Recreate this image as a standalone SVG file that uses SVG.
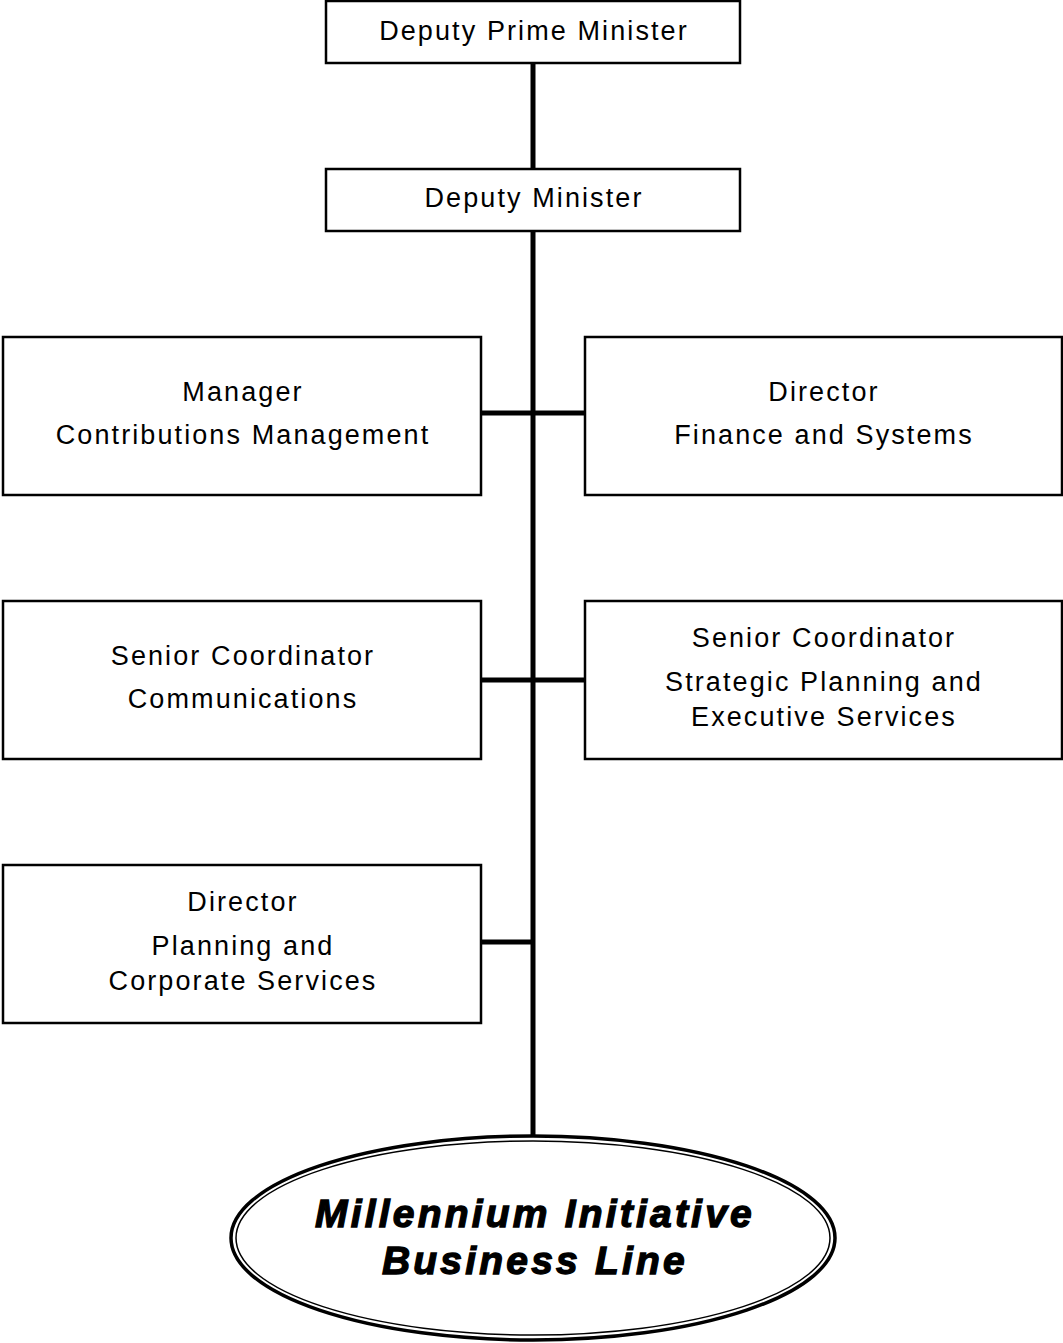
<svg xmlns="http://www.w3.org/2000/svg" width="1063" height="1343" viewBox="0 0 1063 1343">
<style>
.box{fill:#fff;stroke:#000;stroke-width:2.5}
.t{font-family:"Liberation Sans",Arial,sans-serif;font-size:27px;letter-spacing:2.1px;fill:#000;text-anchor:middle}
.e{font-family:"Liberation Sans",Arial,sans-serif;font-size:39px;font-weight:bold;font-style:italic;letter-spacing:3.2px;fill:#000;stroke:#000;stroke-width:1.3;text-anchor:middle}
.c{stroke:#000;stroke-width:5;fill:none}
</style>
<rect width="1063" height="1343" fill="#fff"/>
<g id="connectors">
<line class="c" x1="533" y1="63" x2="533" y2="169"/>
<line class="c" x1="533" y1="231" x2="533" y2="1137"/>
<line class="c" x1="481" y1="413" x2="585" y2="413"/>
<line class="c" x1="481" y1="680" x2="585" y2="680"/>
<line class="c" x1="481" y1="942" x2="533" y2="942"/>
</g>
<g id="dpm"><rect class="box" x="326" y="1" width="414" height="62"/><text class="t" x="534" y="40">Deputy Prime Minister</text></g>
<g id="dm"><rect class="box" x="326" y="169" width="414" height="62"/><text class="t" x="534" y="207">Deputy Minister</text></g>
<g id="mcm"><rect class="box" x="3" y="337" width="478" height="158"/><text class="t" x="243" y="401">Manager</text><text class="t" x="243" y="444">Contributions Management</text></g>
<g id="dfs"><rect class="box" x="585" y="337" width="477" height="158"/><text class="t" x="824" y="401">Director</text><text class="t" x="824" y="444">Finance and Systems</text></g>
<g id="scc"><rect class="box" x="3" y="601" width="478" height="158"/><text class="t" x="243" y="665">Senior Coordinator</text><text class="t" x="243" y="708">Communications</text></g>
<g id="scsp"><rect class="box" x="585" y="601" width="477" height="158"/><text class="t" x="824" y="647">Senior Coordinator</text><text class="t" x="824" y="691">Strategic Planning and</text><text class="t" x="824" y="726">Executive Services</text></g>
<g id="dpcs"><rect class="box" x="3" y="865" width="478" height="158"/><text class="t" x="243" y="911">Director</text><text class="t" x="243" y="955">Planning and</text><text class="t" x="243" y="990">Corporate Services</text></g>
<g id="mibl">
<ellipse cx="533" cy="1238" rx="302" ry="102" fill="#fff" stroke="#000" stroke-width="3.5"/>
<ellipse cx="533" cy="1238" rx="297" ry="97" fill="none" stroke="#000" stroke-width="1.5"/>
<text class="e" x="535" y="1227">Millennium Initiative</text>
<text class="e" x="535" y="1274">Business Line</text>
</g>
</svg>
